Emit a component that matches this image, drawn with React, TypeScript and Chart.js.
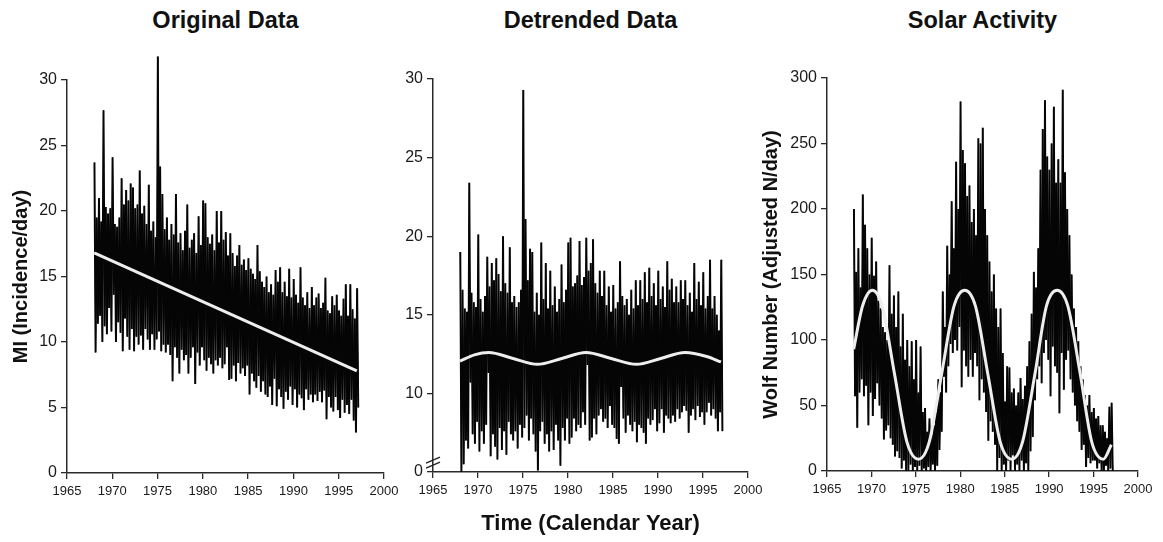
import React, { useEffect, useRef } from 'react';
import { Chart, registerables } from 'chart.js';

Chart.register(...registerables);

// ---------- Data ----------
const START_YEAR = 1968;
const STEP = 0.25; // years between samples
const X_TICKS = [1965, 1970, 1975, 1980, 1985, 1990, 1995, 2000];

const TITLES = ['Original Data', 'Detrended Data', 'Solar Activity'];
const Y_TITLES = ['MI (Incidence/day)', '', 'Wolf Number (Adjusted N/day)'];
const X_TITLE = 'Time (Calendar Year)';

// Panel 1: original MI data (upper / lower excursions per quarter year)
const miHigh = [
  23.7, 19.5, 21.0, 19.2, 27.7, 20.3, 19.8, 20.2, 24.1, 19.0, 18.8, 19.5,
  22.5, 20.5, 21.6, 20.8, 22.1, 21.8, 20.2, 20.5, 23.1, 19.8, 20.4, 19.0,
  22.0, 18.5, 19.2, 18.0, 31.8, 23.4, 21.3, 18.6, 19.5, 17.8, 19.0, 18.2,
  21.3, 17.6, 18.3, 17.0, 18.5, 20.5, 17.2, 17.8, 18.3, 16.8, 19.6, 17.4,
  20.8, 20.6, 18.0, 17.5, 18.2, 17.0, 20.0, 17.6, 20.0, 17.8, 18.4, 16.6,
  18.3, 16.8, 15.8, 16.6, 17.4, 15.9, 16.3, 15.5, 16.4, 15.6, 15.2, 14.8,
  17.4, 15.4, 14.6, 14.2, 15.0, 13.8, 14.4, 13.6, 15.5, 14.6, 15.7, 13.8,
  14.6, 13.5, 15.6, 13.4, 14.8, 13.6, 13.0, 15.7, 13.4, 12.8, 13.8, 12.6,
  14.2, 12.8, 13.4, 13.7, 12.6, 13.0, 14.9, 12.4, 12.2, 13.5, 12.8, 13.6,
  12.4, 12.0, 13.3, 14.4, 12.0, 14.4, 12.5, 11.8, 14.1,
];
const miLow = [
  9.2, 11.4, 12.0, 10.0, 11.2, 10.6, 12.6, 10.8, 13.6, 10.0, 11.5, 10.7,
  9.3, 11.8, 10.4, 9.4, 11.0, 9.3, 10.4, 9.8, 10.5, 9.4, 11.0, 10.2,
  9.4, 10.6, 9.4, 10.2, 10.8, 9.3, 9.8, 9.2, 9.8, 9.0, 7.0, 9.6,
  8.8, 7.6, 9.4, 8.6, 9.0, 7.6, 8.8, 9.6, 6.8, 9.2, 8.2, 9.6,
  8.6, 7.8, 8.8, 8.3, 7.6, 8.6, 8.2, 8.8, 8.0, 8.3, 9.6, 7.1,
  7.2, 8.2, 7.0, 8.4, 7.6, 8.0, 7.4, 8.2, 6.0, 7.6, 7.0, 6.5,
  7.4, 6.2, 7.0, 6.0, 5.8, 6.6, 5.2, 7.2, 5.1, 6.4, 5.8, 4.9,
  6.2, 5.6, 6.6, 5.2, 6.4, 5.0, 6.0, 5.7, 4.8, 6.4, 5.6, 6.0,
  5.4, 6.0, 5.5, 6.2, 5.4, 6.3, 4.1, 5.8, 5.0, 4.7, 5.8, 4.8,
  4.2, 5.6, 4.6, 5.2, 4.5, 5.6, 4.0, 3.1, 5.0,
];
const miTrendYears = [1968, 1997];
const miTrendValues = [16.8, 7.8];

// Panel 2: detrended data
const detHigh = [
  19.0, 16.6, 15.4, 15.2, 23.4, 16.4, 15.8, 15.5, 20.1, 16.0, 15.2, 16.2,
  18.7, 16.8, 18.3, 17.2, 18.6, 17.6, 16.5, 20.0, 17.0, 16.4, 19.3, 15.8,
  16.2, 15.5, 15.8, 16.6, 29.3, 21.1, 17.2, 19.2, 19.0, 15.2, 16.4, 15.0,
  19.6, 16.0, 18.3, 15.4, 17.8, 15.6, 16.8, 15.2, 16.0, 18.2, 15.8, 16.6,
  19.6, 19.9, 16.8, 17.0, 17.5, 19.7, 16.9, 17.4, 19.9, 17.8, 18.3, 19.8,
  17.0, 16.4, 17.8, 16.2, 17.8, 15.6, 16.8, 15.2, 16.9, 15.4, 15.8, 18.4,
  16.2, 15.6, 16.0, 15.0, 16.6, 15.4, 17.2, 15.6, 17.2, 16.0, 17.7, 15.8,
  18.0, 16.2, 17.0, 15.6, 17.8, 16.0, 16.8, 15.5, 18.4, 16.6, 17.3, 15.8,
  16.8, 15.8, 17.2, 16.0, 17.2, 15.6, 16.4, 15.2, 18.3, 16.0, 17.1, 15.6,
  17.7, 15.4, 16.2, 18.5, 15.4, 16.2, 15.0, 14.0, 18.5,
];
const detLow = [
  5.0, 5.5, 7.0, 6.5, 10.7, 7.4, 6.8, 8.2, 6.3, 7.6, 6.8, 8.0,
  11.3, 6.0, 7.4, 6.6, 5.8, 7.8, 6.4, 7.6, 6.1, 8.2, 7.4, 7.0,
  7.6, 6.5, 8.0, 7.2, 7.8, 8.6, 7.0, 8.4, 7.4, 6.3, 5.1, 7.6,
  8.2, 6.8, 7.4, 6.3, 7.6, 6.4, 8.0, 7.0, 5.4, 7.8, 7.0, 8.4,
  6.8, 7.2, 8.4, 7.6, 8.0, 7.8, 8.8, 8.0, 11.8, 7.0, 7.2, 8.4,
  7.4, 8.6, 9.0, 8.2, 8.4, 7.8, 9.2, 8.0, 7.8, 7.1, 6.8, 10.4,
  8.4, 7.5, 8.6, 8.0, 7.6, 8.2, 6.9, 8.0, 7.8, 7.5, 6.8, 8.4,
  8.0, 8.3, 9.0, 7.6, 8.1, 9.0, 7.5, 8.6, 8.4, 8.1, 8.6, 8.2,
  9.0, 8.4, 8.8, 9.2, 8.9, 7.5, 8.6, 9.0, 8.3, 9.2, 8.5, 8.8,
  8.0, 8.8, 9.4, 8.6, 9.0, 8.4, 7.6, 8.8, 7.6,
];
const detFitYears = [1968, 1969.6, 1971.2, 1973.9, 1976.6, 1979.3, 1982.0, 1984.8, 1987.6, 1990.3, 1993.0, 1995.4, 1997];
const detFitValues = [12.05, 12.45, 12.6, 12.22, 11.85, 12.22, 12.6, 12.22, 11.85, 12.22, 12.6, 12.35, 12.0];

// Panel 3: solar activity (Wolf number)
const wolfHigh = [
  200, 152, 170, 140, 211, 188, 170, 150, 178, 149, 160, 130,
  124, 110, 106, 100, 157, 120, 134, 110, 137, 95, 120, 85,
  100, 80, 99, 70, 100, 60, 95, 45, 48, 30, 40, 28,
  35, 45, 70, 60, 137, 110, 172, 150, 206, 170, 236, 200,
  282, 245, 235, 210, 218, 190, 200, 180, 254, 250, 262, 200,
  180, 160, 137, 150, 124, 110, 124, 90, 53, 80, 79, 60,
  63, 50, 60, 71, 55, 65, 80, 99, 120, 152, 140, 170,
  230, 261, 283, 240, 230, 250, 278, 220, 238, 220, 291, 228,
  200, 180, 150, 124, 110, 99, 80, 70, 58, 50, 58, 45,
  48, 40, 42, 35, 35, 30, 25, 49, 52,
];
const wolfLow = [
  57, 33, 60, 70, 57, 65, 35, 60, 42, 55, 67, 50,
  40, 24, 31, 35, 25, 20, 11, 15, 10, 2, 8, 0,
  0, 5, 0, 3, 0, 4, 0, 2, 0, 3, 0, 5,
  0, 4, 16, 30, 72, 60, 80, 97, 90, 100, 92, 110,
  64, 92, 80, 72, 85, 72, 90, 80, 54, 70, 60, 45,
  23, 38, 30, 20, 0, 10, 0, 5, 0, 8, 0, 12,
  0, 5, 0, 8, 0, 6, 0, 15, 26, 54, 70, 80,
  67, 90, 100, 85, 57, 95, 80, 75, 44, 90, 62, 85,
  92, 70, 60, 50, 38, 30, 16, 20, 3, 10, 6, 8,
  8, 2, 6, 0, 0, 4, 0, 2, 0,
];
const wolfFitYears = [1968, 1969, 1970.1, 1971.2, 1972.6, 1974, 1975.3, 1976.5, 1977.9, 1979.3, 1980.5, 1981.7, 1983.1, 1984.5, 1985.8, 1987.0, 1988.4, 1989.7, 1990.9, 1992.1, 1993.5, 1994.8, 1996.1, 1997];
const wolfFitValues = [93, 126, 138, 126, 74, 22, 9, 22, 74, 126, 138, 126, 74, 22, 9, 22, 74, 126, 138, 126, 74, 22, 9, 20];

// ---------- helpers ----------
const FONT = '"Liberation Sans", Arial, Helvetica, sans-serif';
const AXIS_COLOR = '#2a2a2a';

function zigzag(high: number[], low: number[], shift: number) {
  const pts: { x: number; y: number }[] = [];
  for (let i = 0; i < high.length; i++) {
    const t = START_YEAR + i * STEP + shift;
    pts.push({ x: t, y: high[i] });
    pts.push({ x: t + STEP / 2, y: low[i] });
  }
  return pts;
}

function pairs(xs: number[], ys: number[]) {
  return xs.map((x, i) => ({ x, y: ys[i] }));
}

type PanelOpts = {
  high: number[];
  low: number[];
  fitX: number[];
  fitY: number[];
  smooth: boolean;
  yMin: number;
  yMax: number;
  yStep: number;
  yLabel: (v: number) => string;
  yTitle: string;
  yTitlePad: number;
  xTitle: string;
  width: number;
  height: number;
  areaLeft: number;
  areaRight: number;
  areaTop: number;
  areaBottom: number;
  plugins?: any[];
};

function noisyDataset(o: PanelOpts, shift: number) {
  return {
    data: zigzag(o.high, o.low, shift),
    borderColor: '#050505',
    borderWidth: 1.4,
    pointRadius: 0,
    tension: 0,
    clip: false,
  };
}

function makeConfig(o: PanelOpts): any {
  return {
    type: 'line',
    data: {
      datasets: [
        {
          data: pairs(o.fitX, o.fitY),
          borderColor: '#eeeeee',
          borderWidth: 3,
          pointRadius: 0,
          tension: o.smooth ? 0.4 : 0,
          cubicInterpolationMode: o.smooth ? 'monotone' : 'default',
        },
        noisyDataset(o, 0),
        noisyDataset(o, STEP / 4),
      ],
    },
    options: {
      animation: false,
      responsive: false,
      devicePixelRatio: 1,
      layout: {
        padding: {
          left: 0,
          top: o.areaTop,
          right: o.width - o.areaRight,
          bottom: 0,
        },
      },
      plugins: {
        legend: { display: false },
        tooltip: { enabled: false },
        title: { display: false },
      },
      scales: {
        x: {
          type: 'linear',
          min: 1965,
          max: 2000,
          afterBuildTicks: (s: any) => {
            s.ticks = X_TICKS.map((v) => ({ value: v }));
          },
          afterFit: (s: any) => {
            s.height = o.height - o.areaBottom;
          },
          ticks: {
            autoSkip: false,
            maxRotation: 0,
            padding: 5,
            color: '#1a1a1a',
            font: { family: FONT, size: 13 },
            callback: (v: number) => String(v),
          },
          grid: {
            display: true,
            drawOnChartArea: false,
            drawTicks: true,
            tickLength: 6,
            color: AXIS_COLOR,
            lineWidth: 1.3,
          },
          border: { display: true, color: AXIS_COLOR, width: 1.5 },
          title: {
            display: !!o.xTitle,
            text: o.xTitle,
            color: '#111',
            font: { family: FONT, size: 22, weight: 'bold' },
            padding: { top: 0, bottom: 5 },
          },
        },
        y: {
          type: 'linear',
          min: o.yMin,
          max: o.yMax,
          afterFit: (s: any) => {
            s.width = o.areaLeft;
          },
          ticks: {
            stepSize: o.yStep,
            padding: 4,
            color: '#1a1a1a',
            font: { family: FONT, size: 16 },
            callback: (v: number) => o.yLabel(v),
          },
          grid: {
            display: true,
            drawOnChartArea: false,
            drawTicks: true,
            tickLength: 6,
            color: AXIS_COLOR,
            lineWidth: 1.3,
          },
          border: { display: true, color: AXIS_COLOR, width: 1.5 },
          title: {
            display: !!o.yTitle,
            text: o.yTitle,
            color: '#111',
            font: { family: FONT, size: 20, weight: 'bold' },
            padding: { top: o.yTitlePad, bottom: 0 },
          },
        },
      },
    },
    plugins: o.plugins || [],
  };
}

const axisBreakPlugin = {
  id: 'axisBreak',
  afterDraw(chart: any) {
    const { ctx } = chart;
    const x = chart.chartArea.left;
    const y0 = chart.scales.y.getPixelForValue(5.75);
    ctx.save();
    ctx.strokeStyle = '#222';
    ctx.lineWidth = 1.4;
    for (const dy of [0, 5]) {
      ctx.beginPath();
      ctx.moveTo(x - 7, y0 + dy + 3);
      ctx.lineTo(x + 7, y0 + dy - 3);
      ctx.stroke();
    }
    ctx.restore();
  },
};

const PANELS = [
  { left: 0, width: 410, areaLeft: 67, areaRight: 384, areaTop: 80, areaBottom: 473 },
  { left: 380, width: 400, areaLeft: 53, areaRight: 368, areaTop: 79, areaBottom: 472 },
  { left: 740, width: 423, areaLeft: 87, areaRight: 398, areaTop: 78, areaBottom: 471 },
];
const HEIGHT = 542;

export default function App() {
  const r1 = useRef<HTMLCanvasElement>(null);
  const r2 = useRef<HTMLCanvasElement>(null);
  const r3 = useRef<HTMLCanvasElement>(null);

  useEffect(() => {
    const charts: Chart[] = [];
    const p = PANELS;
    charts.push(
      new Chart(
        r1.current as HTMLCanvasElement,
        makeConfig({
          high: miHigh,
          low: miLow,
          fitX: miTrendYears,
          fitY: miTrendValues,
          smooth: false,
          yMin: 0,
          yMax: 30,
          yStep: 5,
          yLabel: (v) => String(v),
          yTitle: Y_TITLES[0],
          yTitlePad: 9,
          xTitle: '',
          height: HEIGHT,
          ...p[0],
        })
      )
    );
    charts.push(
      new Chart(
        r2.current as HTMLCanvasElement,
        makeConfig({
          high: detHigh,
          low: detLow,
          fitX: detFitYears,
          fitY: detFitValues,
          smooth: true,
          yMin: 5,
          yMax: 30,
          yStep: 5,
          yLabel: (v) => (v === 5 ? '0' : String(v)),
          yTitle: Y_TITLES[1],
          yTitlePad: 0,
          xTitle: X_TITLE,
          height: HEIGHT,
          plugins: [axisBreakPlugin],
          ...p[1],
        })
      )
    );
    charts.push(
      new Chart(
        r3.current as HTMLCanvasElement,
        makeConfig({
          high: wolfHigh,
          low: wolfLow,
          fitX: wolfFitYears,
          fitY: wolfFitValues,
          smooth: true,
          yMin: 0,
          yMax: 300,
          yStep: 50,
          yLabel: (v) => String(v),
          yTitle: Y_TITLES[2],
          yTitlePad: 19,
          xTitle: '',
          height: HEIGHT,
          ...p[2],
        })
      )
    );
    return () => charts.forEach((c) => c.destroy());
  }, []);

  const refs = [r1, r2, r3];
  return (
    <div
      style={{
        position: 'fixed',
        left: 0,
        top: 0,
        width: 1163,
        height: HEIGHT,
        background: '#fff',
        overflow: 'hidden',
      }}
    >
      {PANELS.map((p, i) => (
        <div
          key={'t' + i}
          style={{
            position: 'absolute',
            top: 6,
            left: p.left + p.areaLeft - 60,
            width: p.areaRight - p.areaLeft + 120,
            textAlign: 'center',
            fontFamily: FONT,
            fontWeight: 'bold',
            fontSize: 23.5,
            lineHeight: '28px',
            color: '#111',
          }}
        >
          {TITLES[i]}
        </div>
      ))}
      {PANELS.map((p, i) => (
        <canvas
          key={'c' + i}
          ref={refs[i]}
          width={p.width}
          height={HEIGHT}
          style={{ position: 'absolute', left: p.left, top: 0, width: p.width, height: HEIGHT }}
        />
      ))}
    </div>
  );
}
